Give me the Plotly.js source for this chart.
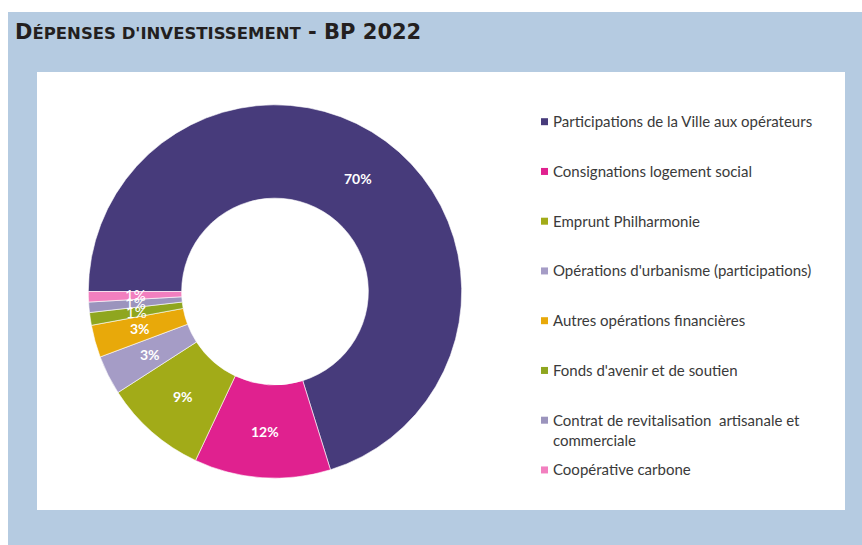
<!DOCTYPE html>
<html><head><meta charset="utf-8">
<script src="https://cdn.plot.ly/plotly-3.0.1.min.js"></script>
<style>html,body{margin:0;padding:0;background:#fff;} #chart{width:862px;height:545px;}</style>
</head><body><div id="chart"></div>
<script>
// ---- data ----
const categories = [
  "Participations de la Ville aux opérateurs",
  "Consignations logement social",
  "Emprunt Philharmonie",
  "Opérations d'urbanisme (participations)",
  "Autres opérations financières",
  "Fonds d'avenir et de soutien",
  "Contrat de revitalisation  artisanale et commerciale",
  "Coopérative carbone"
];
const legendLabels = [
  "Participations de la Ville aux opérateurs",
  "Consignations logement social",
  "Emprunt Philharmonie",
  "Opérations d'urbanisme (participations)",
  "Autres opérations financières",
  "Fonds d'avenir et de soutien",
  "Contrat de revitalisation  artisanale et<br>commerciale",
  "Coopérative carbone"
];
const shares = [70.2, 11.8, 8.9, 3.4, 2.8, 1.1, 0.9, 0.9];
const colors = ["#473b7b", "#e0218f", "#a2ab18", "#a59cc6", "#e8a90a", "#8fa61f", "#9b94bd", "#f27fbf"];
const titleMain = "D";
const titleSmall = "ÉPENSES D'INVESTISSEMENT";
const titleEnd = " - BP 2022";

// ---- layout helpers ----
const W = 862, H = 545;
const px = x => x / W;
const py = y => 1 - y / H;

// donut geometry (pixels)
const CX = 275, CY = 291.5, R = 186.7, HOLE = 0.5, ROT = -90;
const domX = [(CX - R) / W, (CX + R) / W];
const domY = [1 - (CY + R) / H, 1 - (CY - R) / H];

const shapes = [
  {type:'rect', xref:'paper', yref:'paper', x0:px(8), x1:px(862), y0:py(545), y1:py(12),
   fillcolor:'#b5cbe1', line:{width:0}, layer:'below'},
  {type:'rect', xref:'paper', yref:'paper', x0:px(37), x1:px(845), y0:py(510), y1:py(72),
   fillcolor:'#ffffff', line:{width:0}, layer:'below'}
];
const annotations = [];
legendLabels.forEach((lab, i) => {
  const cy = 121.7 + i * 49.75;
  shapes.push({type:'rect', xref:'paper', yref:'paper',
    x0:px(541), x1:px(548), y0:py(cy + 3.5), y1:py(cy - 3.5),
    fillcolor:colors[i], line:{width:0}});
  annotations.push({xref:'paper', yref:'paper', x:px(551), y:py(cy - 11.5),
    xanchor:'left', yanchor:'top', align:'left', showarrow:false, text:lab,
    font:{family:'Lato, sans-serif', size:15, color:'#3a3a3a'}});
});

// percentage labels at the middle of each ring segment, computed from the shares
const total = shares.reduce((a, b) => a + b, 0);
let acc = 0;
shares.forEach((v, i) => {
  const mid = (ROT + (acc + v / 2) / total * 360) * Math.PI / 180;
  acc += v;
  const rm = R * (1 + HOLE) / 2;
  const small = v / total < 0.02;
  annotations.push({xref:'paper', yref:'paper',
    x:px(CX + rm * Math.sin(mid)), y:py(CY - rm * Math.cos(mid)),
    xanchor:'center', yanchor:'middle', showarrow:false,
    text: Math.round(v / total * 100) + '%',
    font:{family:'Lato, sans-serif', size: small ? 15 : 14, color:'#ffffff', weight: small ? 'normal' : 'bold'}});
});

annotations.push({xref:'paper', yref:'paper', x:px(13), y:py(46), xanchor:'left', yanchor:'bottom',
  showarrow:false,
  text: titleMain + "<span style='font-size:16.5px'>" + titleSmall + "</span>" + titleEnd,
  font:{family:'DejaVu Sans, sans-serif', size:21, color:'#231f20', weight:'bold'}});

const trace = {
  type:'pie', labels:categories, values:shares, hole:HOLE, sort:false,
  direction:'clockwise', rotation:ROT,
  marker:{colors:colors, line:{color:'#ffffff', width:0.6}},
  textinfo:'none',
  domain:{x:domX, y:domY},
  showlegend:false, hoverinfo:'label+percent'
};

Plotly.newPlot('chart', [trace], {
  width:W, height:H, margin:{l:0, r:0, t:0, b:0},
  paper_bgcolor:'#ffffff', plot_bgcolor:'#ffffff',
  shapes:shapes, annotations:annotations
}, {displayModeBar:false, staticPlot:true});
</script></body></html>
